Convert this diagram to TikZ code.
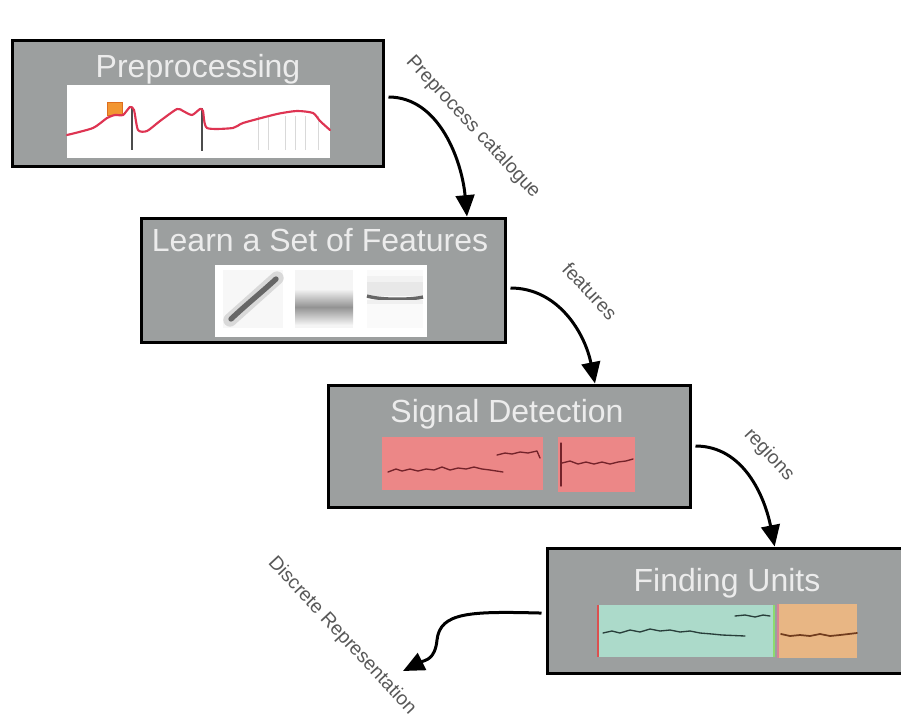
\documentclass[tikz,border=0pt]{standalone}
\usepackage{fontspec}
\setmainfont{Liberation Sans}
\usetikzlibrary{arrows.meta}

\begin{document}
\begin{tikzpicture}[x=0.75pt,y=0.75pt,yscale=-1,
    stagebox/.style={draw=black, line width=2.25pt, fill={rgb, 255:red, 156; green, 159; blue, 159 }, inner sep=0pt},
    stagetitle/.style={anchor=base, inner sep=0.75pt, text={rgb, 255:red, 236; green, 236; blue, 236 }, font=\fontsize{24}{28}\selectfont},
    flowlabel/.style={inner sep=0.75pt, rotate=-47, text={rgb, 255:red, 88; green, 88; blue, 88 }, font=\fontsize{14.5}{17}\selectfont},
    flowarrow/.style={line width=2.25pt, shorten <=3pt, -{Triangle[length=16pt,width=14pt]}},
    trace/.style={line width=1pt, line join=round, line cap=round}
]
        \useasboundingbox (0,0) rectangle (901,719);
        \clip (0,0) rectangle (901,719);

        %Shape: Rectangle [stages]
        \node[stagebox, minimum width=278.25pt, minimum height=94.5pt] (prep) at (197.5,103) {};
        \node[stagebox, minimum width=273pt, minimum height=93pt] (learn) at (323,280) {};
        \node[stagebox, minimum width=271.5pt, minimum height=91.5pt] (detect) at (509,446) {};
        \node[stagebox, minimum width=277.5pt, minimum height=93.75pt] (units) at (732,610.5) {};

        % Text Node
        \node[stagetitle] (preptitle) at (198,77) {Preprocessing};
        % Text Node
        \node[stagetitle] (learntitle) at (320,251) {Learn a Set of Features};
        % Text Node
        \node[stagetitle] (detecttitle) at (507,422) {Signal Detection};
        % Text Node
        \node[stagetitle] (unitstitle) at (727,591) {Finding Units};

        %Shape: Preprocessing trace
        \fill[white] (67,85) rectangle (330,158);
        \foreach \xx in {258,268,285,295,305,318}
            \draw[gray!30, line width=0.6pt] (\xx,116) -- (\xx,150);
        \draw[gray!60!black, line width=0.9pt] (132,108) -- (132,150);
        \draw[gray!60!black, line width=0.9pt] (202,108) -- (202,151);
        \draw[fill={rgb, 255:red, 242; green, 150; blue, 50 }, draw={rgb, 255:red, 222; green, 110; blue, 30 }] (107,102) rectangle (122,115);
        \draw[trace, line width=1.6pt, draw={rgb, 255:red, 222; green, 52; blue, 82 }] plot[smooth, tension=0.4] coordinates {(67,135) (93,128) (107,118) (115,115) (123,115) (130,107) (134,110) (138,130) (147,131) (160,121) (177,109) (183,111) (192,115) (200,109) (203,111) (207,128) (233,128) (243,123) (277,114) (297,111) (313,113) (320,121) (330,130)};

        %Shape: feature tiles
        \fill[white] (215,265) rectangle (427,337);
        \fill[gray!6] (223,270) rectangle (283,328);
        \draw[gray!30, line width=10pt, line cap=round] (230,320) -- (277,278);
        \draw[gray!80!black, line width=4pt, line cap=round] (231,319) .. controls (248,303) and (262,292) .. (276,279);
        \fill[gray!8] (295,270) rectangle (353,328);
        \shade[top color=gray!12, bottom color=gray!12, middle color=gray!85] (295,290) rectangle (353,324);
        \fill[gray!4] (367,270) rectangle (423,328);
        \fill[gray!18] (367,282) rectangle (423,296);
        \fill[gray!10] (367,276) rectangle (423,282);
        \draw[gray!80!black, line width=2.5pt] (367,296) .. controls (380,300) and (410,300) .. (423,297);
        \fill[gray!12] (367,300) rectangle (423,304);

        %Shape: detection regions
        \fill[fill={rgb, 255:red, 236; green, 135; blue, 135 }] (382,437) rectangle (543,490);
        \fill[fill={rgb, 255:red, 236; green, 135; blue, 135 }] (558,437) rectangle (635,492);
        \draw[trace, draw={rgb, 255:red, 115; green, 35; blue, 42 }] (388,472) -- (396,469) -- (402,471) -- (410,469) -- (418,471) -- (426,469) -- (434,470) -- (442,467) -- (450,470) -- (458,468) -- (466,469) -- (474,467) -- (482,469) -- (490,470) -- (503,472);
        \draw[trace, draw={rgb, 255:red, 115; green, 35; blue, 42 }] (497,455) -- (505,453) -- (512,454) -- (520,452) -- (528,453) -- (537,451) -- (540,458);
        \draw[trace, draw={rgb, 255:red, 115; green, 35; blue, 42 }] (561,443) -- (561,486);
        \draw[trace, draw={rgb, 255:red, 115; green, 35; blue, 42 }] (562,463) -- (570,461) -- (578,464) -- (586,462) -- (594,464) -- (602,462) -- (610,464) -- (618,462) -- (626,461) -- (633,459);

        %Shape: unit regions
        \fill[fill={rgb, 255:red, 172; green, 218; blue, 202 }] (597,605) rectangle (775,657);
        \draw[draw={rgb, 255:red, 220; green, 80; blue, 80 }, line width=1pt] (598,605) -- (598,657);
        \draw[draw={rgb, 255:red, 140; green, 220; blue, 110 }, line width=1pt] (774,605) -- (774,657);
        \fill[fill={rgb, 255:red, 232; green, 182; blue, 132 }] (778,604) rectangle (857,658);
        \draw[draw={rgb, 255:red, 215; green, 130; blue, 150 }, line width=1pt] (778,604) -- (778,658);
        \draw[trace, draw={rgb, 255:red, 40; green, 62; blue, 58 }] (603,633) -- (612,631) -- (620,633) -- (630,630) -- (640,632) -- (650,629) -- (660,631) -- (670,630) -- (680,632) -- (690,631) -- (700,633) -- (712,634) -- (722,635) -- (745,636);
        \draw[trace, draw={rgb, 255:red, 40; green, 62; blue, 58 }] (735,616) -- (745,615) -- (755,617) -- (763,615) -- (770,616);
        \draw[trace, line width=1.3pt, draw={rgb, 255:red, 112; green, 60; blue, 30 }] (781,634) -- (790,636) -- (800,635) -- (810,636) -- (820,634) -- (830,636) -- (840,635) -- (857,633);

        % Text Node
        \node[flowlabel] (lblcatalogue) at (473,127) {Preprocess catalogue};
        % Text Node
        \node[flowlabel] (lblfeatures) at (590,291) {features};
        % Text Node
        \node[flowlabel] (lblregions) at (769,455) {regions};
        % Text Node
        \node[flowlabel] (lbldiscrete) at (342,636) {Discrete Representation};

        \coordinate (discrete) at (403,671);

        %Curve Lines
        \draw[flowarrow] ([yshift=-4.5pt]prep.east) .. controls +(55,0) and +(-5,-55) .. ([xshift=108pt]learn.north);
        \draw[flowarrow] ([yshift=6pt]learn.east) .. controls +(52,0) and +(-10,-50) .. ([xshift=64.5pt]detect.north);
        \draw[flowarrow] (detect.east) .. controls +(52,0) and +(-10,-50) .. ([xshift=32pt]units.north);
        \draw[flowarrow] ([yshift=2pt]units.west) .. controls +(-75,-2) and +(3,-28) .. (437,640) .. controls +(-2,20) and +(22,-11) .. (discrete);

\end{tikzpicture}
\end{document}
